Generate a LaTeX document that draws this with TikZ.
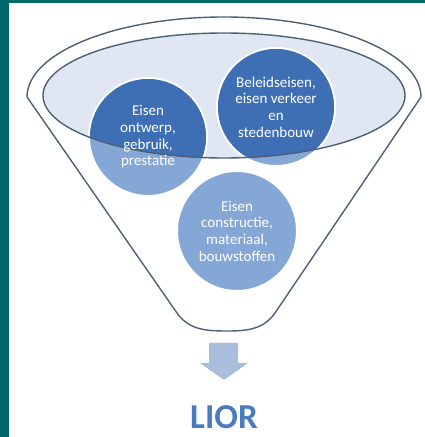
\documentclass[tikz,border=0pt]{standalone}
\usepackage{fontspec}
\setmainfont{Carlito}
\usetikzlibrary{positioning}
\definecolor{framegreen}{HTML}{00676A}
\definecolor{funnelline}{HTML}{4F5F78}
\definecolor{bowlfill}{HTML}{E1E7F2}
\definecolor{reqdark}{HTML}{3E6FB5}
\definecolor{reqlight}{HTML}{84A7D6}
\definecolor{arrowfill}{HTML}{A9BDDD}
\definecolor{liorblue}{HTML}{4A7BBD}

\begin{document}
\begin{tikzpicture}[x=1pt,y=1pt,
    reqtext/.style={text=white, align=center, font=\fontsize{15}{16.7}\selectfont},
    ring/.style={draw=white, line width=2pt},
    funnel/.style={draw=funnelline, line width=1.4pt, line join=round}]
    \useasboundingbox (0,0) rectangle (425,437);
    % Frame
    \fill[framegreen] (0,434) rectangle (425,437);
    \fill[framegreen] (0,0) rectangle (9,437);
    % Circle centres
    \coordinate (ontwerp) at (148,300);
    \coordinate (beleid) at (276,330);
    \coordinate (constr) at (237,206);
    % Funnel
    \draw[funnel] (27,340) arc[start angle=180, end angle=0, x radius=197, y radius=80]
        -- (275,124) to[out=-125, in=0] (228,106) to[out=180, in=-55] (177,124) -- cycle;
    \fill[bowlfill] (224,341.5) ellipse [x radius=181, y radius=62.5];
    % Circles
    \foreach \c/\r in {ontwerp/59, beleid/59, constr/60} {
        \filldraw[fill=reqlight, ring] (\c) circle[radius=\r];
    }
    % Darker where inside the bowl
    \begin{scope}
        \clip (224,341.5) ellipse [x radius=181, y radius=62.5];
        \foreach \c in {ontwerp, beleid} {
            \fill[reqdark] (\c) circle[radius=58];
        }
    \end{scope}
    \draw[funnel] (224,341.5) ellipse [x radius=181, y radius=62.5];
    % Labels
    \node[reqtext] (ontwerptext) at (ontwerp) {Eisen\\ontwerp,\\gebruik,\\prestatie};
    \node[reqtext] (beleidtext) at (beleid) {Beleidseisen,\\eisen verkeer\\en\\stedenbouw};
    \node[reqtext] (constrtext) at (constr) {Eisen\\constructie,\\materiaal,\\bouwstoffen};
    % Arrow
    \fill[arrowfill] (209,94) -- (238,94) -- (238,74) -- (248,74) -- (224,57)
        -- (200,74) -- (209,74) -- cycle;
    \node[text=liorblue, font=\fontsize{35}{40}\selectfont\bfseries, anchor=base] (lior) at (224,9) {LIOR};
\end{tikzpicture}
\end{document}
